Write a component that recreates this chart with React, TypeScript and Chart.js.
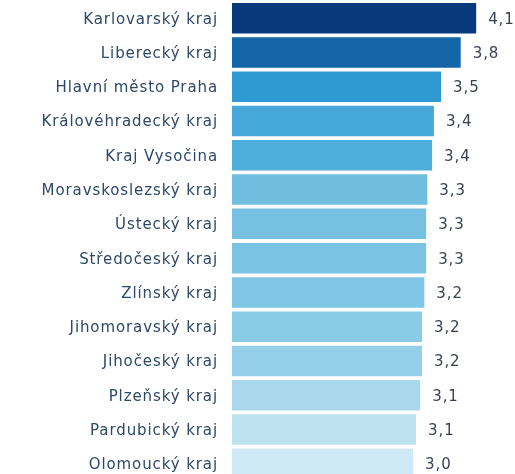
import React, { useEffect, useRef } from "react";
import { Chart, registerables } from "chart.js";

Chart.register(...registerables);

const categories = [
  "Karlovarský kraj",
  "Liberecký kraj",
  "Hlavní město Praha",
  "Královéhradecký kraj",
  "Kraj Vysočina",
  "Moravskoslezský kraj",
  "Ústecký kraj",
  "Středočeský kraj",
  "Zlínský kraj",
  "Jihomoravský kraj",
  "Jihočeský kraj",
  "Plzeňský kraj",
  "Pardubický kraj",
  "Olomoucký kraj",
];

const values = [4.1, 3.84, 3.51, 3.39, 3.36, 3.28, 3.26, 3.26, 3.23, 3.19, 3.19, 3.16, 3.09, 3.04];

const valueLabels = ["4,1", "3,8", "3,5", "3,4", "3,4", "3,3", "3,3", "3,3", "3,2", "3,2", "3,2", "3,1", "3,1", "3,0"];

const barColors = [
  "#08397a",
  "#1466a8",
  "#2f9ad2",
  "#47a9da",
  "#4daedc",
  "#70bde0",
  "#76c0e2",
  "#7ac3e3",
  "#80c6e4",
  "#8acbe6",
  "#93cfe8",
  "#a9d8ec",
  "#bee2f0",
  "#d0eaf5",
];

const FONT = "15px 'DejaVu Sans'";

const labelPlugin = {
  id: "labels",
  afterDatasetsDraw(chart: any) {
    const ctx = chart.ctx;
    const meta = chart.getDatasetMeta(0);
    const yScale = chart.scales.y;
    ctx.save();
    ctx.font = FONT;
    (ctx as any).letterSpacing = "0.9px";
    ctx.textBaseline = "middle";
    // category labels
    ctx.fillStyle = "#2d4868";
    ctx.textAlign = "right";
    categories.forEach((c, i) => {
      const y = yScale.getPixelForValue(i);
      ctx.fillText(c, chart.chartArea.left - 14, y + 1.5);
    });
    // value labels
    ctx.fillStyle = "#3a4252";
    ctx.textAlign = "left";
    meta.data.forEach((bar: any, i: number) => {
      ctx.fillText(valueLabels[i], bar.x + 12, bar.y + 1.5);
    });
    ctx.restore();
  },
};

export default function App() {
  const ref = useRef<HTMLCanvasElement | null>(null);

  useEffect(() => {
    if (!ref.current) return;
    const chart = new Chart(ref.current, {
      type: "bar",
      data: {
        labels: categories,
        datasets: [
          {
            data: values,
            backgroundColor: barColors,
            borderWidth: 0,
            barPercentage: 0.89,
            categoryPercentage: 1,
          },
        ],
      },
      options: {
        indexAxis: "y",
        responsive: false,
        animation: false,
        devicePixelRatio: 1,
        layout: { padding: { top: 1, right: 15, bottom: 0, left: 232 } },
        plugins: {
          legend: { display: false },
          tooltip: { enabled: false },
        },
        scales: {
          x: {
            display: false,
            min: 0,
            max: 4.5,
          },
          y: {
            display: false,
          },
        },
      },
      plugins: [labelPlugin],
    });
    return () => chart.destroy();
  }, []);

  return (
    <div
      style={{
        position: "fixed",
        top: 0,
        left: 0,
        width: 515,
        height: 474,
        overflow: "hidden",
        background: "#ffffff",
      }}
    >
      <canvas ref={ref} width={515} height={481} style={{ display: "block" }} />
    </div>
  );
}
